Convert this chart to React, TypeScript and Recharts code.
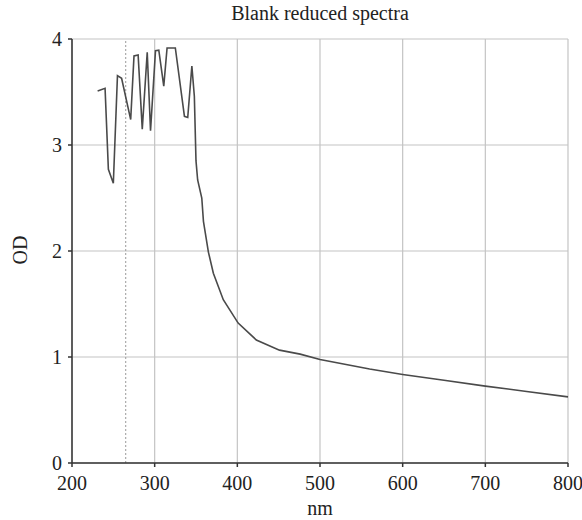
import { CartesianGrid, Line, LineChart, ReferenceLine, XAxis, YAxis } from "recharts";

const wavelengths = [
  231, 240, 244, 250, 255, 260, 271, 275, 280, 285, 291, 295, 301, 305, 311, 315, 325, 336, 340, 345,
  348, 350, 352, 357, 359, 365, 371, 383, 401, 423, 451, 476, 500, 560, 600, 650, 700, 750, 800,
];
const odValues = [
  3.51, 3.535, 2.77, 2.64, 3.655, 3.63, 3.24, 3.84, 3.85, 3.15, 3.875, 3.135, 3.89, 3.895, 3.555, 3.915,
  3.915, 3.27, 3.26, 3.745, 3.46, 2.85, 2.67, 2.5, 2.28, 1.99, 1.79, 1.54, 1.32, 1.16, 1.065, 1.027,
  0.977, 0.886, 0.835, 0.78, 0.725, 0.675, 0.624,
];
const xTicks = [200, 300, 400, 500, 600, 700, 800];
const yTicks = [0, 1, 2, 3, 4];
const markerNm = 265;

const data = wavelengths.map((nm, i) => ({ nm, od: odValues[i] }));

const font = "Liberation Serif";

function XTick({ x, y, payload }: any) {
  return (
    <text x={x} y={y + 17} textAnchor="middle" fontFamily={font} fontSize={20} fill="#222">
      {payload.value}
    </text>
  );
}

function YTick({ x, y, payload }: any) {
  return (
    <text x={x} y={y + 7} textAnchor="end" fontFamily={font} fontSize={20} fill="#222">
      {payload.value}
    </text>
  );
}

export default function App() {
  return (
    <div style={{ position: "absolute", left: 0, top: 0, width: 582, height: 520, background: "#fff", fontFamily: font }}>
      <div style={{ position: "absolute", left: 72, width: 496, top: 2, textAlign: "center", fontSize: 20, lineHeight: "23px", color: "#222" }}>
        Blank reduced spectra
      </div>
      <div
        style={{
          position: "absolute",
          left: 72,
          width: 496,
          top: 497,
          textAlign: "center",
          fontSize: 20,
          lineHeight: "22px",
          color: "#222",
        }}
      >
        nm
      </div>
      <div
        style={{
          position: "absolute",
          left: 20,
          top: 250,
          transform: "translate(-50%, -50%) rotate(-90deg)",
          fontSize: 20,
          lineHeight: "22px",
          color: "#222",
        }}
      >
        OD
      </div>
      <LineChart width={582} height={520} data={data} margin={{ top: 39, right: 14, left: 0, bottom: 0 }}>
        <CartesianGrid stroke="#c4c4c4" strokeWidth={1.2} />
        <XAxis
          dataKey="nm"
          type="number"
          domain={[200, 800]}
          ticks={xTicks}
          height={57}
          tickSize={4}
          tickMargin={6}
          tick={<XTick />}
          stroke="#333"
          strokeWidth={1.5}
        />
        <YAxis
          domain={[0, 4]}
          ticks={yTicks}
          width={72}
          tickSize={4}
          tickMargin={6}
          tick={<YTick />}
          stroke="#333"
          strokeWidth={1.5}
        />
        <ReferenceLine x={markerNm} stroke="#999" strokeDasharray="2 2" />
        <Line
          type="linear"
          dataKey="od"
          stroke="#4a4a4a"
          strokeWidth={1.6}
          dot={false}
          isAnimationActive={false}
        />
      </LineChart>
    </div>
  );
}
